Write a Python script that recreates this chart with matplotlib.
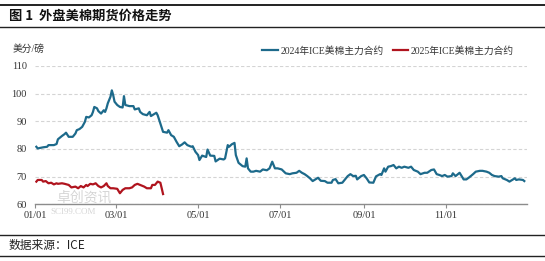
import matplotlib
matplotlib.use("Agg")
import matplotlib.pyplot as plt
import matplotlib.dates as mdates
import pandas as pd

# ---------------- data ----------------
dates_2024 = [
    "2024-01-02", "2024-01-03", "2024-01-07", "2024-01-10", "2024-01-11", "2024-01-15", "2024-01-17", "2024-01-18",
    "2024-01-21", "2024-01-23", "2024-01-24", "2024-01-26", "2024-01-29", "2024-01-31", "2024-02-01", "2024-02-03",
    "2024-02-05", "2024-02-07", "2024-02-08", "2024-02-10", "2024-02-12", "2024-02-13", "2024-02-14", "2024-02-16",
    "2024-02-17", "2024-02-19", "2024-02-21", "2024-02-22", "2024-02-23", "2024-02-24", "2024-02-26", "2024-02-27",
    "2024-02-28", "2024-02-29", "2024-03-02", "2024-03-04", "2024-03-06", "2024-03-07", "2024-03-08", "2024-03-11",
    "2024-03-14", "2024-03-15", "2024-03-18", "2024-03-19", "2024-03-21", "2024-03-24", "2024-03-26", "2024-03-27",
    "2024-03-29", "2024-03-31", "2024-04-01", "2024-04-03", "2024-04-05", "2024-04-08", "2024-04-09", "2024-04-11",
    "2024-04-13", "2024-04-15", "2024-04-17", "2024-04-19", "2024-04-21", "2024-04-23", "2024-04-26", "2024-04-27",
    "2024-04-29", "2024-05-01", "2024-05-02", "2024-05-04", "2024-05-07", "2024-05-08", "2024-05-10", "2024-05-13",
    "2024-05-14", "2024-05-17", "2024-05-20", "2024-05-21", "2024-05-23", "2024-05-24", "2024-05-26", "2024-05-28",
    "2024-05-29", "2024-05-31", "2024-06-03", "2024-06-05", "2024-06-06", "2024-06-07", "2024-06-09", "2024-06-11",
    "2024-06-13", "2024-06-16", "2024-06-18", "2024-06-21", "2024-06-23", "2024-06-25", "2024-06-27", "2024-06-29",
    "2024-07-02", "2024-07-05", "2024-07-08", "2024-07-10", "2024-07-13", "2024-07-15", "2024-07-17", "2024-07-19",
    "2024-07-21", "2024-07-23", "2024-07-25", "2024-07-27", "2024-07-29", "2024-07-31", "2024-08-03", "2024-08-05",
    "2024-08-08", "2024-08-09", "2024-08-11", "2024-08-13", "2024-08-16", "2024-08-18", "2024-08-20", "2024-08-22",
    "2024-08-24", "2024-08-26", "2024-08-27", "2024-08-30", "2024-09-01", "2024-09-03", "2024-09-05", "2024-09-08",
    "2024-09-10", "2024-09-13", "2024-09-14", "2024-09-16", "2024-09-17", "2024-09-19", "2024-09-21", "2024-09-23",
    "2024-09-25", "2024-09-27", "2024-09-29", "2024-10-01", "2024-10-04", "2024-10-06", "2024-10-08", "2024-10-11",
    "2024-10-13", "2024-10-16", "2024-10-18", "2024-10-21", "2024-10-23", "2024-10-25", "2024-10-27", "2024-10-29",
    "2024-10-31", "2024-11-02", "2024-11-05", "2024-11-06", "2024-11-08", "2024-11-11", "2024-11-12", "2024-11-14",
    "2024-11-16", "2024-11-18", "2024-11-21", "2024-11-23", "2024-11-26", "2024-11-28", "2024-12-01", "2024-12-03",
    "2024-12-05", "2024-12-07", "2024-12-10", "2024-12-12", "2024-12-13", "2024-12-16", "2024-12-18", "2024-12-20",
    "2024-12-22", "2024-12-23", "2024-12-25", "2024-12-28", "2024-12-29",
]
values_2024 = [
    80.8, 80.2, 80.6, 80.8, 81.4, 81.4, 81.8, 83.5,
    84.7, 85.4, 85.9, 84.4, 84.4, 85.6, 86.8, 87.2,
    88.0, 89.8, 91.6, 91.4, 92.2, 93.4, 95.2, 94.7,
    93.7, 92.8, 94.0, 93.4, 94.7, 96.5, 98.9, 101.2,
    99.5, 97.1, 95.9, 95.2, 95.0, 99.1, 95.9, 95.5,
    95.5, 94.3, 94.7, 93.4, 92.6, 92.2, 93.4, 91.9,
    92.5, 93.1, 92.2, 89.2, 86.2, 85.9, 86.8, 85.0,
    84.4, 82.6, 81.0, 81.6, 82.4, 81.4, 80.8, 81.0,
    79.0, 77.8, 76.0, 77.6, 77.1, 79.8, 77.6, 77.5,
    75.5, 76.5, 76.2, 76.6, 81.4, 80.8, 81.7, 82.2,
    77.8, 75.0, 73.8, 73.6, 76.6, 73.0, 71.8, 71.8,
    72.1, 71.8, 72.6, 72.3, 73.0, 75.4, 73.0, 73.0,
    72.6, 71.2, 70.9, 71.2, 71.4, 72.1, 71.4, 70.9,
    70.2, 69.4, 68.4, 69.0, 69.6, 68.5, 68.4, 67.8,
    67.8, 68.8, 69.1, 67.6, 67.8, 69.0, 70.2, 70.9,
    70.2, 70.3, 69.0, 70.2, 70.6, 69.4, 67.9, 67.8,
    70.1, 70.9, 70.6, 73.0, 71.8, 73.6, 73.8, 74.2,
    73.0, 73.6, 73.2, 73.6, 73.2, 73.6, 72.4, 71.8,
    70.9, 71.4, 71.4, 72.4, 72.6, 70.9, 70.6, 70.2,
    70.6, 70.0, 70.2, 71.2, 70.2, 71.4, 70.6, 69.0,
    69.0, 69.7, 70.9, 71.8, 72.1, 72.1, 71.8, 71.4,
    70.6, 70.2, 70.0, 70.2, 69.4, 68.8, 68.2, 68.8,
    69.4, 68.8, 69.0, 68.8, 68.4,
]

dates_2025 = [
    "2025-01-02", "2025-01-03", "2025-01-06", "2025-01-07", "2025-01-09", "2025-01-11", "2025-01-13", "2025-01-15",
    "2025-01-17", "2025-01-18", "2025-01-21", "2025-01-23", "2025-01-26", "2025-01-28", "2025-01-31", "2025-02-02",
    "2025-02-04", "2025-02-06", "2025-02-08", "2025-02-09", "2025-02-11", "2025-02-13", "2025-02-15", "2025-02-17",
    "2025-02-19", "2025-02-21", "2025-02-23", "2025-02-24", "2025-02-26", "2025-02-28", "2025-03-02", "2025-03-04",
    "2025-03-06", "2025-03-08", "2025-03-11", "2025-03-13", "2025-03-15", "2025-03-17", "2025-03-19", "2025-03-22",
    "2025-03-24", "2025-03-27", "2025-03-28", "2025-03-30", "2025-04-01", "2025-04-03", "2025-04-04", "2025-04-05",
]
values_2025 = [
    68.2, 68.8, 68.8, 68.2, 68.4, 67.6, 67.8, 67.2,
    67.6, 67.4, 67.6, 67.4, 67.0, 66.1, 66.4, 65.8,
    66.6, 66.1, 67.0, 66.6, 67.4, 67.2, 67.6, 66.6,
    66.1, 66.6, 67.6, 66.6, 65.8, 65.8, 65.6, 64.0,
    65.2, 65.8, 65.8, 66.1, 67.0, 67.4, 67.0, 66.4,
    65.8, 65.8, 67.0, 67.0, 68.2, 67.8, 65.8, 63.7,
]

series_names = ["2024年ICE美棉主力合约", "2025年ICE美棉主力合约"]
series_colors = ["#1d6a8b", "#b0141e"]
title_text = "图 1  外盘美棉期货价格走势"
unit_text = "美分/磅"
source_text = "数据来源：ICE"
y_ticks = [60, 70, 80, 90, 100, 110]

# ---------------- plotting ----------------
CJK = "Noto Sans CJK SC"
SERIF_MIX = ["Liberation Serif", CJK]
plt.rcParams["font.family"] = SERIF_MIX

W, H = 545, 261
fig = plt.figure(figsize=(W / 100, H / 100), dpi=100)

ax = fig.add_axes([35 / W, 1 - 204.3 / H, (527 - 35) / W, (204.3 - 66) / H])

x24 = pd.to_datetime(dates_2024)
# 2025 series drawn on the same calendar axis (month/day)
x25 = pd.to_datetime(["2024" + d[4:] for d in dates_2025])

ax.plot(x24, values_2024, color=series_colors[0], lw=1.6, label=series_names[0], zorder=3)
ax.plot(x25, values_2025, color=series_colors[1], lw=1.6, label=series_names[1], zorder=3)

ax.set_xlim(pd.Timestamp("2024-01-01"), pd.Timestamp("2024-12-31"))
ax.set_ylim(60, 110)
ax.set_yticks(y_ticks)
ax.xaxis.set_major_locator(mdates.MonthLocator(bymonth=[1, 3, 5, 7, 9, 11], bymonthday=1))
ax.xaxis.set_major_formatter(mdates.DateFormatter("%m/%d"))

for s in ["top", "right", "left"]:
    ax.spines[s].set_visible(False)
ax.spines["bottom"].set_color("#8c8c8c")
ax.spines["bottom"].set_linewidth(1.0)
ax.yaxis.grid(True, linestyle=(0, (3, 2)), color="#d4d4d4", lw=0.8)
ax.set_axisbelow(True)
ax.tick_params(axis="y", length=0, labelsize=7.5, pad=6, labelcolor="#333333")
ax.tick_params(axis="x", length=3, color="#8c8c8c", labelsize=7.5, pad=2, labelcolor="#333333")

leg = ax.legend(loc="upper right", bbox_to_anchor=((518 - 35) / (527 - 35), 1 + 24 / 138.3),
                ncol=2, frameon=False, fontsize=7, handlelength=1.6, handletextpad=0.3,
                columnspacing=0.9, borderaxespad=0, prop={"family": SERIF_MIX, "size": 7})
for t in leg.get_texts():
    t.set_color("#333333")

# header / footer
fig.add_artist(plt.Line2D([0, 1], [1 - 5 / H, 1 - 5 / H], color="#222222", lw=1.4))
fig.add_artist(plt.Line2D([0, 1], [1 - 26.5 / H, 1 - 26.5 / H], color="#222222", lw=1.0))
fig.add_artist(plt.Line2D([0, 1], [1 - 235 / H, 1 - 235 / H], color="#222222", lw=1.0))
fig.add_artist(plt.Line2D([0, 1], [1 - 256 / H, 1 - 256 / H], color="#222222", lw=1.0))

fig.text(9 / W, 1 - 16 / H, title_text, fontsize=9.5, fontweight="bold",
         family=[CJK, "DejaVu Sans"], va="center", ha="left", color="#111111")
fig.text(13 / W, 1 - 49 / H, unit_text, fontsize=7, family=SERIF_MIX, va="center", ha="left", color="#333333")
fig.text(9 / W, 1 - 245.5 / H, source_text, fontsize=8.5, family=[CJK, "DejaVu Sans"],
         va="center", ha="left", color="#222222")

# watermark (faint, kept clear of the tick labels)
fig.text(56 / W, 1 - 198 / H, "卓创资讯", fontsize=10, family=[CJK], color="#cccccc",
         alpha=0.8, va="center", ha="left", zorder=0)
fig.text(50 / W, 1 - 212 / H, "SCI99.COM", fontsize=6.5, family=["Liberation Serif"], color="#cccccc",
         alpha=0.8, va="center", ha="left", zorder=0)

fig.savefig("out.png", dpi=100)
